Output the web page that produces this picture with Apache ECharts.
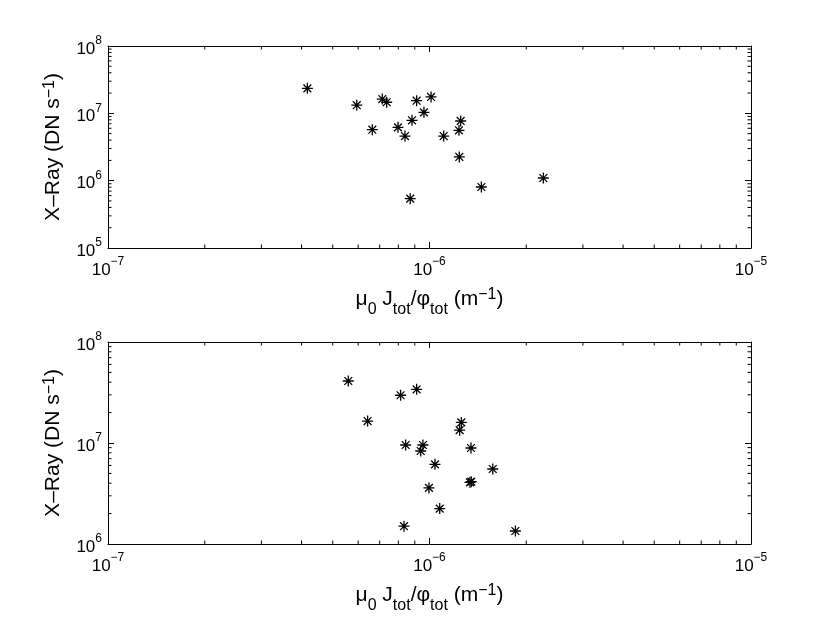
<!DOCTYPE html>
<html>
<head>
<meta charset="utf-8">
<title>X-Ray vs mu0 J/phi</title>
<script src="https://cdn.jsdelivr.net/npm/echarts@6/dist/echarts.min.js"></script>
<style>
  html, body { margin: 0; padding: 0; background: #fff; }
  #chart { width: 830px; height: 625px; }
</style>
</head>
<body>
<div id="chart"></div>
<script>
// top panel: mu0 J_tot / phi_tot (m^-1) vs X-ray (DN s^-1)
const topX = [4.17e-7, 5.94e-7, 7.13e-7, 7.36e-7, 9.12e-7, 1.011e-6, 9.61e-7, 8.82e-7, 6.64e-7,
              7.98e-7, 8.39e-7, 1.107e-6, 1.25e-6, 1.235e-6, 1.238e-6, 1.45e-6, 2.26e-6, 8.71e-7];
const topY = [2.35e7, 1.32e7, 1.63e7, 1.46e7, 1.54e7, 1.75e7, 1.035e7, 7.88e6, 5.71e6,
              6.2e6, 4.6e6, 4.6e6, 7.7e6, 5.6e6, 2.25e6, 8.05e5, 1.095e6, 5.4e5];

// bottom panel
const botX = [5.59e-7, 8.13e-7, 9.12e-7, 6.42e-7, 1.256e-6, 1.241e-6, 8.43e-7, 9.54e-7, 9.39e-7,
              1.346e-6, 1.04e-6, 1.573e-6, 1.336e-6, 1.349e-6, 9.96e-7, 1.076e-6, 8.33e-7, 1.85e-6];
const botY = [4.11e7, 2.97e7, 3.40e7, 1.65e7, 1.60e7, 1.34e7, 9.55e6, 9.55e6, 8.33e6,
              8.92e6, 6.15e6, 5.53e6, 4.08e6, 4.14e6, 3.59e6, 2.24e6, 1.50e6, 1.345e6];

// axis ranges (decades)
const xRange = [1e-7, 1e-5];
const topYRange = [1e5, 1e8];
const botYRange = [1e6, 1e8];

const FONT = '"Liberation Sans", Arial, Helvetica, sans-serif';

const chart = echarts.init(document.getElementById('chart'), null, { renderer: 'canvas' });

function powLabel(v) {
    const e = Math.round(Math.log10(v));
    return '{b|10}{e|' + (e < 0 ? '\u2212' + (-e) : e) + '}';
}

// superscript / subscript are done with padding on one side of the token
const tickRich = {
    b: { fontSize: 17, lineHeight: 18, padding: [6, 0, 0, 0], verticalAlign: 'middle', fontFamily: FONT, color: '#000' },
    e: { fontSize: 12, lineHeight: 14, padding: [0, 0, 10, 0], verticalAlign: 'middle', fontFamily: FONT, color: '#000' }
};

const nameRich = {
    n: { fontSize: 21, lineHeight: 22, verticalAlign: 'middle', fontFamily: FONT, color: '#000' },
    sb: { fontSize: 16, lineHeight: 16, padding: [22, 0, 0, 0], verticalAlign: 'middle', fontFamily: FONT, color: '#000' },
    sp: { fontSize: 16, lineHeight: 16, padding: [0, 0, 8, 0], verticalAlign: 'middle', fontFamily: FONT, color: '#000' }
};

const xName = '{n|\u03bc}{sb|0}{n| J}{sb|tot}{n|/\u03c6}{sb|tot}{n| (m}{sp|\u22121}{n|)}';
const yName = '{n|X\u2013Ray (DN s}{sp|\u22121}{n|)}';

// minor tick values 2..9 per decade
function minorTicks(range) {
    const out = [];
    const e0 = Math.round(Math.log10(range[0]));
    const e1 = Math.round(Math.log10(range[1]));
    for (let e = e0; e < e1; e++) {
        for (let k = 2; k <= 9; k++) out.push(k * Math.pow(10, e));
    }
    return out;
}

const line = { show: true, lineStyle: { color: '#000', width: 1 } };
const tick = { show: true, inside: true, length: 6, lineStyle: { color: '#000', width: 1 } };

function xAxisPair(gridIndex) {
    return [
        {
            type: 'log', logBase: 10, gridIndex: gridIndex, min: xRange[0], max: xRange[1], interval: 1,
            position: 'bottom', axisLine: line, axisTick: tick, splitLine: { show: false },
            axisLabel: { formatter: powLabel, rich: tickRich, margin: 10 },
            name: xName, nameLocation: 'middle', nameGap: 40, nameTextStyle: { rich: nameRich }
        },
        {
            type: 'log', logBase: 10, gridIndex: gridIndex, min: xRange[0], max: xRange[1], interval: 1,
            position: 'top', axisLine: line, axisTick: tick, splitLine: { show: false },
            axisLabel: { show: false }
        }
    ];
}

function yAxisPair(gridIndex, range) {
    return [
        {
            type: 'log', logBase: 10, gridIndex: gridIndex, min: range[0], max: range[1], interval: 1,
            position: 'left', axisLine: line, axisTick: tick, splitLine: { show: false },
            axisLabel: { formatter: powLabel, rich: tickRich, margin: 6 },
            name: yName, nameLocation: 'middle', nameGap: 33, nameRotate: 90,
            nameTextStyle: { rich: nameRich }
        },
        {
            type: 'log', logBase: 10, gridIndex: gridIndex, min: range[0], max: range[1], interval: 1,
            position: 'right', axisLine: line, axisTick: tick, splitLine: { show: false },
            axisLabel: { show: false }
        }
    ];
}

const MINOR = 3.5;

// minor ticks drawn on all four sides through the axes' own scale
function minorXSeries(axisIdx, yRange) {
    return {
        type: 'custom', xAxisIndex: axisIdx, yAxisIndex: axisIdx, silent: true, z: 1,
        data: minorTicks(xRange).map(v => [v, yRange[0]]),
        renderItem: function (params, api) {
            const cs = params.coordSys;
            const px = api.coord([api.value(0), api.value(1)])[0];
            const st = { stroke: '#000', lineWidth: 1 };
            return {
                type: 'group', children: [
                    { type: 'line', shape: { x1: px, y1: cs.y + cs.height, x2: px, y2: cs.y + cs.height - MINOR }, style: st },
                    { type: 'line', shape: { x1: px, y1: cs.y, x2: px, y2: cs.y + MINOR }, style: st }
                ]
            };
        }
    };
}

function minorYSeries(axisIdx, yRange) {
    return {
        type: 'custom', xAxisIndex: axisIdx, yAxisIndex: axisIdx, silent: true, z: 1,
        data: minorTicks(yRange).map(v => [xRange[0], v]),
        renderItem: function (params, api) {
            const cs = params.coordSys;
            const py = api.coord([api.value(0), api.value(1)])[1];
            const st = { stroke: '#000', lineWidth: 1 };
            return {
                type: 'group', children: [
                    { type: 'line', shape: { x1: cs.x, y1: py, x2: cs.x + MINOR, y2: py }, style: st },
                    { type: 'line', shape: { x1: cs.x + cs.width, y1: py, x2: cs.x + cs.width - MINOR, y2: py }, style: st }
                ]
            };
        }
    };
}

const STAR = 'path://M5 0L5 10M0 5L10 5M1.46 1.46L8.54 8.54M1.46 8.54L8.54 1.46';

function starSeries(axisIdx, xs, ys) {
    return {
        type: 'scatter', xAxisIndex: axisIdx, yAxisIndex: axisIdx, z: 3,
        symbol: STAR, symbolSize: 11,
        itemStyle: { color: 'transparent', borderColor: '#000', borderWidth: 1.3, opacity: 1 },
        emphasis: { disabled: true },
        data: xs.map((x, i) => [x, ys[i]])
    };
}

const xa = xAxisPair(0).concat(xAxisPair(1));
const ya = yAxisPair(0, topYRange).concat(yAxisPair(1, botYRange));
// index 0 / 2 are the bottom x and left y axes of each grid
const option = {
    backgroundColor: '#fff',
    animation: false,
    grid: [
        { left: 108, top: 46, width: 643, height: 202 },
        { left: 108, top: 342, width: 643, height: 202 }
    ],
    xAxis: xa,
    yAxis: ya,
    series: [
        minorXSeries(0, topYRange),
        minorYSeries(0, topYRange),
        starSeries(0, topX, topY),
        minorXSeries(2, botYRange),
        minorYSeries(2, botYRange),
        starSeries(2, botX, botY)
    ]
};

chart.setOption(option);
</script>
</body>
</html>
